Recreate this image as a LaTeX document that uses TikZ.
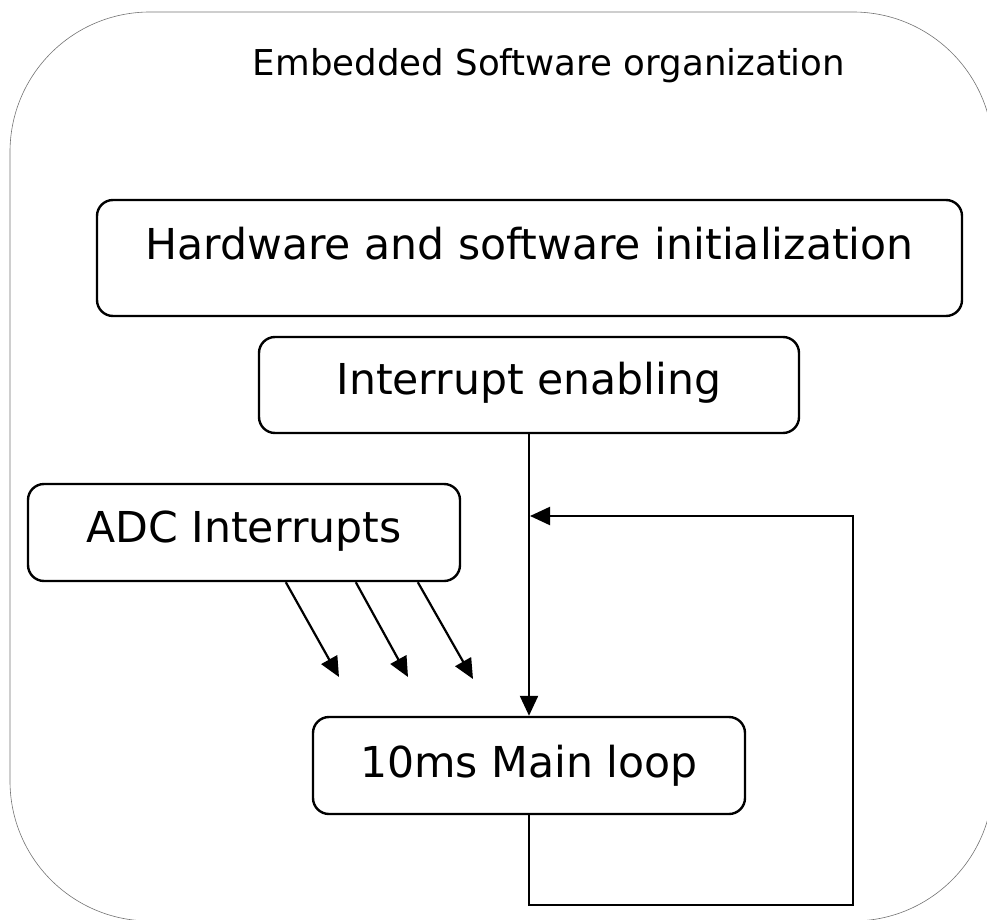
\documentclass[tikz,border=0pt]{standalone}
\usepackage{fontspec}
\setmainfont{DejaVu Sans}
\usetikzlibrary{arrows.meta}

\tikzset{
  frame/.style={draw=black!55, line width=0.6pt, rounded corners=140pt},
  stagebox/.style={draw=black, line width=2.4pt, rounded corners=16pt,
    inner sep=0pt, text height=31pt, font=\fontsize{42.6}{50}\selectfont},
  title/.style={inner sep=0pt, text height=27pt, text depth=0pt,
    font=\fontsize{35.6}{44}\selectfont},
  flow/.style={draw=black, line width=2.2pt,
    -{Triangle[length=20pt,width=18pt]}},
}

\begin{document}
\begin{tikzpicture}[x={(1pt,0pt)}, y={(0pt,-1pt)}]
  \path[use as bounding box] (0,0) rectangle (987,920);
  \clip (0,0) rectangle (987,920);

  % surrounding frame, running past the page edge on the right and bottom
  \draw[frame] (10,12) rectangle (993,921);

  \node[title] (ttl) at (549,62) {Embedded Software organization};

  \node[stagebox, minimum width=865pt, minimum height=116pt, text depth=29pt]
    (hw) at (529.5,258) {Hardware and software initialization};
  \node[stagebox, minimum width=540pt, minimum height=96pt, text depth=12pt]
    (ie) at (529,385) {Interrupt enabling};
  \node[stagebox, minimum width=432pt, minimum height=97pt, text depth=12pt]
    (adc) at (244,532.5) {ADC Interrupts};
  \node[stagebox, minimum width=432pt, minimum height=97pt, text depth=8pt]
    (main) at (529,765.5) {10ms Main loop};

  % start of the main loop
  \draw[flow] (ie.south) -- (main.north);

  % loop back from the end of the main loop
  \coordinate (loopcorner) at (853,905);
  \coordinate (loopin) at (530,516);
  \draw[flow] (main.south) |- (loopcorner) |- (loopin);

  % interrupts hitting the loop
  \coordinate (irqA) at (339,677);
  \coordinate (irqB) at (408,677);
  \coordinate (irqC) at (473,679);
  \draw[flow] ([xshift=259pt]adc.south west) -- (irqA);
  \draw[flow] ([xshift=329pt]adc.south west) -- (irqB);
  \draw[flow] ([xshift=391pt]adc.south west) -- (irqC);
\end{tikzpicture}
\end{document}
